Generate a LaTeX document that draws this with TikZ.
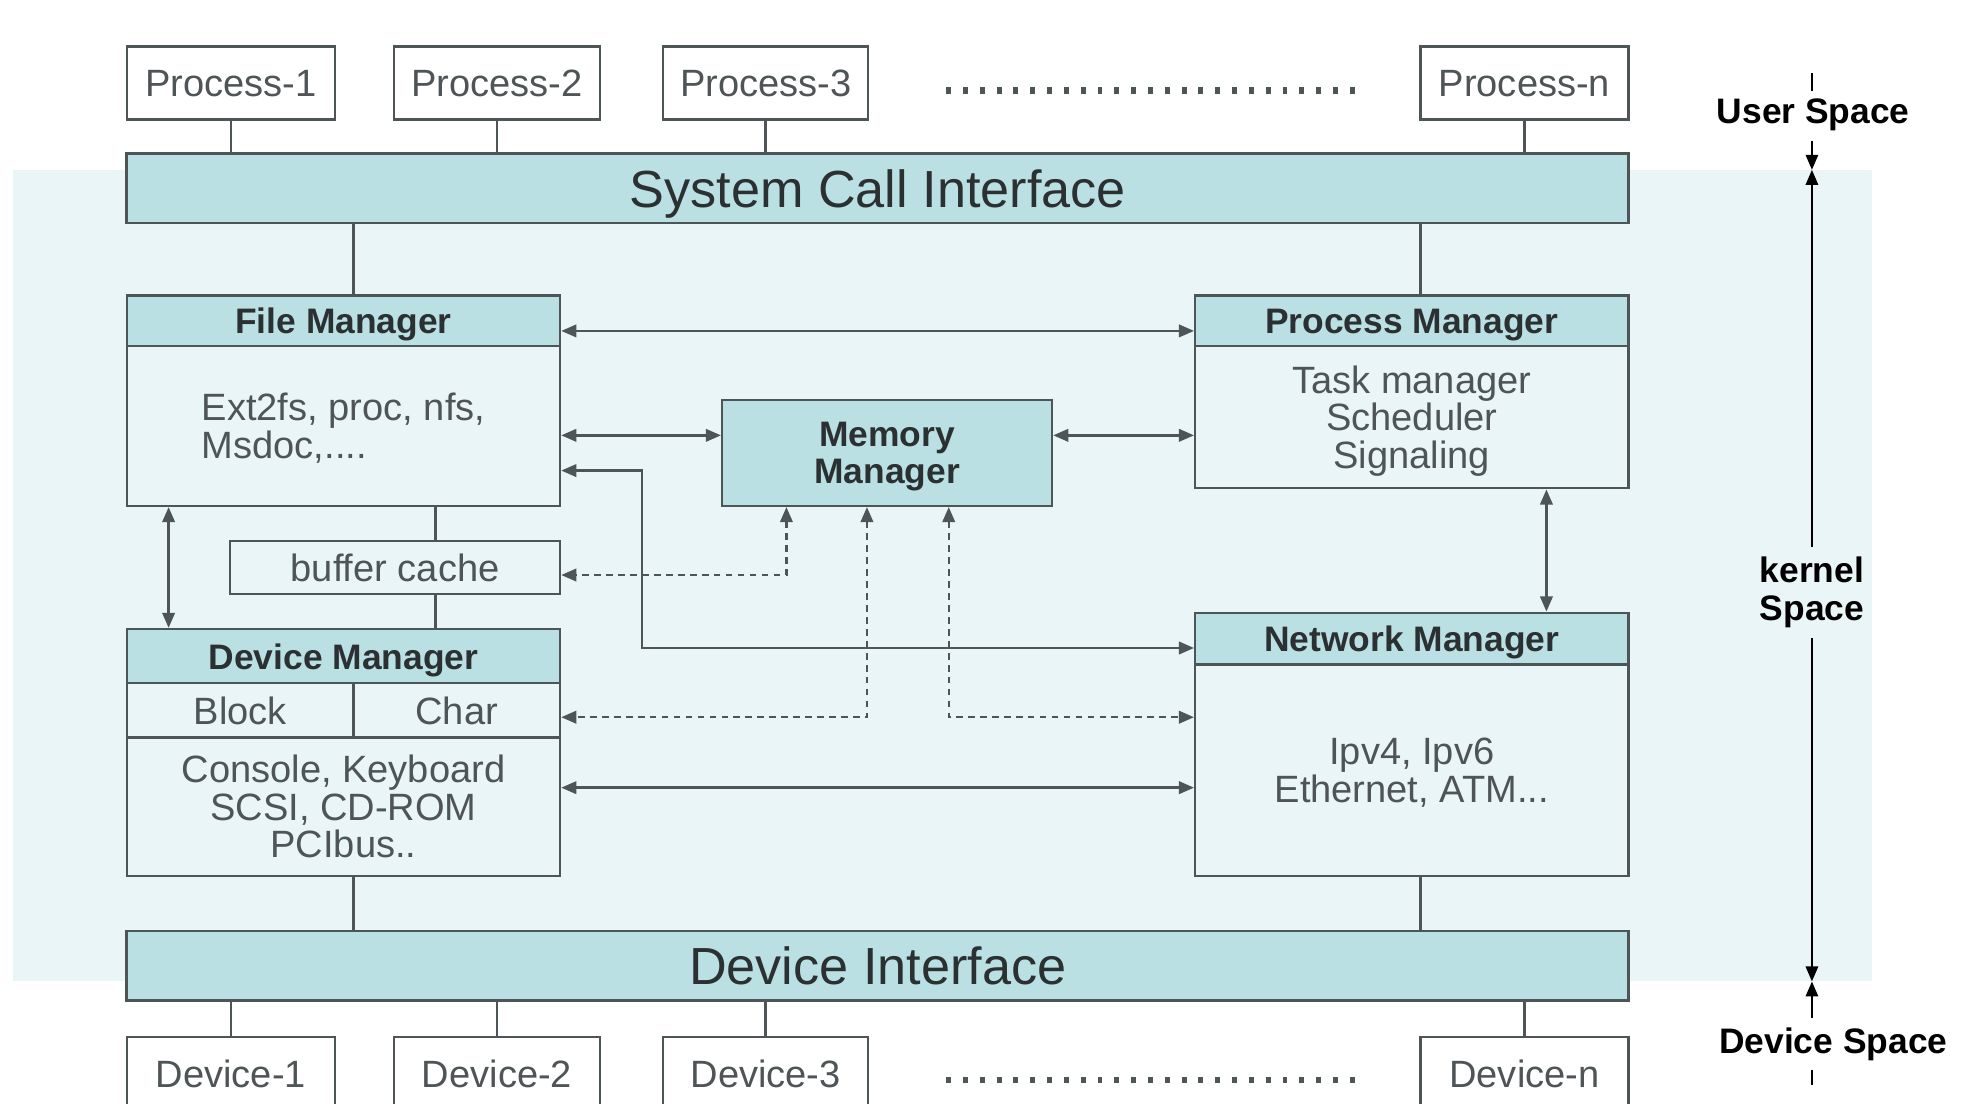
\documentclass[tikz,border=0pt]{standalone}
\usepackage{fontspec}
\setmainfont{Liberation Sans}
\usetikzlibrary{arrows.meta}
\definecolor{boxline}{HTML}{4D5557}
\definecolor{headfill}{HTML}{BBE0E3}
\definecolor{kernelfill}{HTML}{E9F5F6}
\definecolor{bodytext}{HTML}{4F5557}
\definecolor{headtext}{HTML}{2B3133}

\begin{document}
\begin{tikzpicture}[x=0.01cm,y=-0.01cm,color=boxline,line width=0.55pt,
    userbox/.style={draw,fill=white,text=bodytext,font=\fontsize{8.6}{9}\selectfont,
      minimum width=1.65cm,minimum height=0.58cm,inner sep=0pt,text depth=0pt},
    bar/.style={draw,fill=headfill,text=headtext,font=\fontsize{11.8}{13}\selectfont,
      minimum width=11.93cm,minimum height=0.55cm,inner sep=0pt,text depth=0pt},
    headbox/.style={draw,fill=headfill,text=headtext,font=\fontsize{8}{8.4}\selectfont\bfseries,
      minimum width=3.44cm,align=center,inner sep=0pt,text depth=0pt},
    bodybox/.style={draw,fill=kernelfill,text=bodytext,font=\fontsize{8.6}{8.5}\selectfont,
      minimum width=3.44cm,align=center,inner sep=0pt,text depth=0pt},
    both/.style={{Triangle[length=3.4pt,width=2.8pt]}-{Triangle[length=3.4pt,width=2.8pt]}},
    dashboth/.style={both,dash pattern=on 1.5pt off 1.2pt},
    tip/.style={-{Triangle[length=3.4pt,width=2.8pt]},color=black,line width=0.45pt},
    side/.style={text=black,font=\fontsize{8}{8.5}\selectfont\bfseries,align=center,inner sep=2pt}]

    \useasboundingbox (0,0) rectangle (1568,877);
    \fill[kernelfill] (10,135) rectangle (1488,780);

    \node[userbox] (p1) at (183.5,66) {Process-1};
    \node[userbox,minimum width=1.64cm] (p2) at (395,66) {Process-2};
    \node[userbox,minimum width=1.63cm] (p3) at (608.5,66) {Process-3};
    \node[userbox] (pn) at (1211.5,66) {Process-n};
    \draw[line width=1.4pt,dash pattern=on 1.1pt off 2.7pt] (752,72) -- (1085,72);

    \node[bar] (sci) at (697.5,149.5) {System Call Interface};
    \foreach \p in {p1,p2,p3,pn}
        \draw (\p.south) -- (\p.south |- sci.north);

    \node[headbox,minimum height=0.40cm] (fmhead) at (273,255) {File Manager};
    \node[bodybox,minimum height=1.27cm,align=left] (fmbody) at (273,338.5) {Ext2fs, proc, nfs,\\Msdoc,....};
    \node[headbox,minimum height=0.40cm] (pmhead) at (1122,255) {Process Manager};
    \node[bodybox,minimum height=1.13cm] (pmbody) at (1122,331.5) {Task manager\\Scheduler\\Signaling};
    \node[headbox,minimum width=2.62cm,minimum height=0.84cm] (mm) at (705,360) {Memory\\Manager};
    \node[bodybox,minimum width=2.62cm,minimum height=0.42cm] (buf) at (314,451) {buffer cache};

    \node[headbox,minimum height=0.43cm] (dmhead) at (273,521.5) {Device Manager};
    \node[bodybox,minimum width=1.80cm,minimum height=0.43cm] (dmblock) at (191,564.5) {Block};
    \node[bodybox,minimum width=1.64cm,minimum height=0.43cm] (dmchar) at (363,564.5) {Char};
    \node[bodybox,minimum height=1.10cm] (dmbody) at (273,641) {Console, Keyboard\\SCSI, CD-ROM\\PCIbus..};
    \node[headbox,minimum height=0.41cm] (nmhead) at (1122,507.5) {Network Manager};
    \node[bodybox,minimum height=1.68cm] (nmbody) at (1122,612) {Ipv4, Ipv6\\Ethernet, ATM...};

    \node[bar] (di) at (697.5,767.5) {Device Interface};
    \node[userbox] (d1) at (183.5,853) {Device-1};
    \node[userbox,minimum width=1.64cm] (d2) at (395,853) {Device-2};
    \node[userbox,minimum width=1.63cm] (d3) at (608.5,853) {Device-3};
    \node[userbox] (dn) at (1211.5,853) {Device-n};
    \draw[line width=1.4pt,dash pattern=on 1.1pt off 2.7pt] (752,858) -- (1085,858);
    \foreach \d in {d1,d2,d3,dn}
        \draw (\d.north) -- (\d.north |- di.south);

    \draw (281,0 |- sci.south) -- (281,0 |- fmhead.north);
    \draw (1129,0 |- sci.south) -- (1129,0 |- pmhead.north);
    \draw (281,0 |- dmbody.south) -- (281,0 |- di.north);
    \draw (1129,0 |- nmbody.south) -- (1129,0 |- di.north);
    \draw (346,0 |- fmbody.south) -- (346,0 |- buf.north);
    \draw (346,0 |- buf.south) -- (346,0 |- dmhead.north);

    \draw[both] (fmhead.east |- 0,263) -- (pmhead.west |- 0,263);
    \draw[both] (fmbody.east |- 0,346) -- (mm.west |- 0,346);
    \draw[both] (mm.east |- 0,346) -- (pmbody.west |- 0,346);
    \draw[both] (fmbody.east |- 0,374) -| (510,515) -- (nmhead.west |- 0,515);
    \draw[both] (134,0 |- fmbody.south) -- (134,0 |- dmhead.north);
    \draw[both] (1229,0 |- pmbody.south) -- (1229,0 |- nmhead.north);
    \draw[both] (dmbody.east |- 0,626) -- (nmbody.west |- 0,626);
    \draw[dashboth] (625,0 |- mm.south) |- (buf.east |- 0,457);
    \draw[dashboth] (689,0 |- mm.south) |- (dmchar.east |- 0,570);
    \draw[dashboth] (754,0 |- mm.south) |- (nmbody.west |- 0,570);

    \node[side] (us) at (1441,91) {User Space};
    \node[side] (ks) at (1440,471) {kernel\\Space};
    \node[side] (ds) at (1457,830) {Device Space};
    \coordinate (ktop) at (1440,135);
    \coordinate (kbot) at (1440,780);
    \draw[color=black,line width=0.45pt] (ktop |- 0,58) -- (ktop |- 0,72);
    \draw[tip] (ktop |- us.south) -- (ktop);
    \draw[tip] (ks.north) -- (ktop);
    \draw[tip] (ks.south) -- (kbot);
    \draw[tip] (kbot |- ds.north) -- (kbot);
    \draw[color=black,line width=0.45pt] (kbot |- 0,850) -- (kbot |- 0,862);
\end{tikzpicture}
\end{document}
